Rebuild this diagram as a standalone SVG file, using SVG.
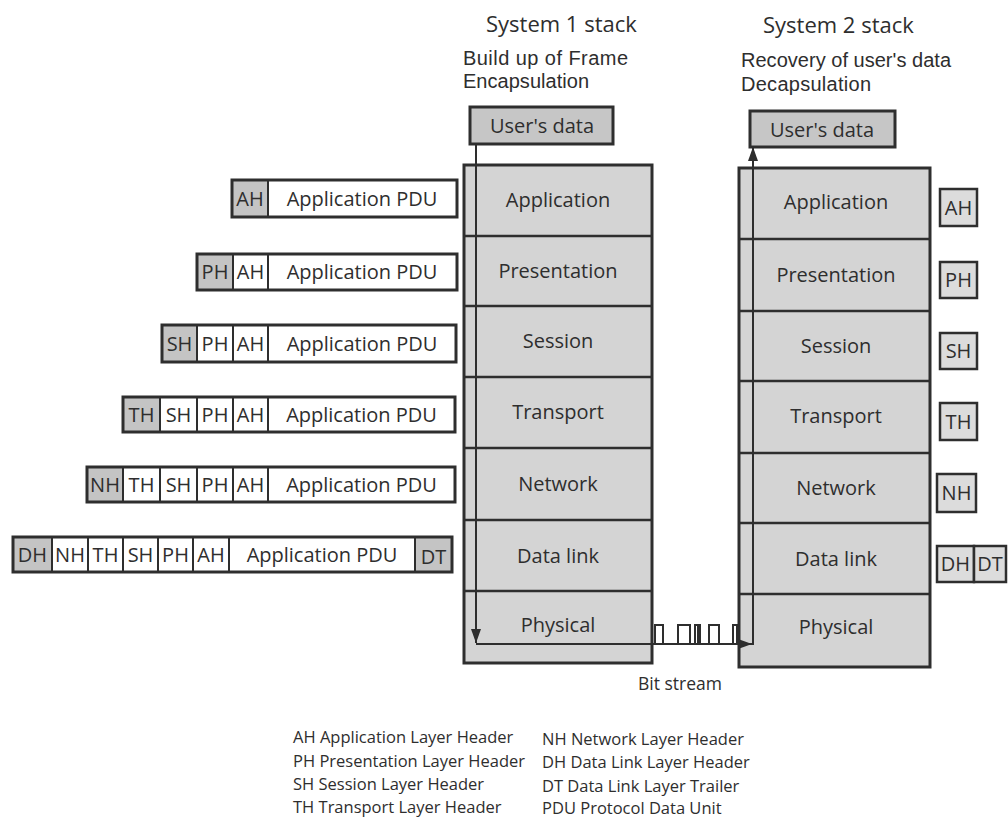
<svg xmlns="http://www.w3.org/2000/svg" width="1008" height="823" viewBox="0 0 1008 823">
<defs>
<style>
text{font-family:"Open Sans","Noto Sans","Liberation Sans",sans-serif;fill:#2e2e2e}
.title{font-size:22px}
.sub{font-size:20px;font-family:"Liberation Sans","Open Sans",sans-serif}
.lbl{font-size:20px;text-anchor:middle}
.leg{font-size:16.5px}
.bit{font-size:17.5px}
.outer{fill:none;stroke:#2e2e2e;stroke-width:3}
.cell{fill:#fff;stroke:#2e2e2e;stroke-width:2}
.gcell{fill:#c4c4c4;stroke:#2e2e2e;stroke-width:2}
.stack{fill:#d4d4d4;stroke:#2e2e2e;stroke-width:3}
.div{stroke:#2e2e2e;stroke-width:2.5}
.ubox{fill:#c6c6c6;stroke:#2e2e2e;stroke-width:3}
.rbox{fill:#dcdcdc;stroke:#2e2e2e;stroke-width:2.5}
.conn{fill:none;stroke:#2e2e2e;stroke-width:2}
</style>
<marker id="arr" viewBox="0 0 14 10" refX="14" refY="5" markerWidth="14" markerHeight="10" markerUnits="userSpaceOnUse" orient="auto">
<path d="M0,0 L14,5 L0,10 Z" fill="#2e2e2e"/>
</marker>
</defs>
<rect x="0" y="0" width="1008" height="823" fill="#fff"/>

<!-- Titles -->
<g id="titles">
<text class="title" x="486" y="32">System 1 stack</text>
<text class="sub" x="463" y="65" textLength="165" lengthAdjust="spacing">Build up of Frame</text>
<text class="sub" x="463" y="88" textLength="126" lengthAdjust="spacing">Encapsulation</text>
<text class="title" x="763" y="33">System 2 stack</text>
<text class="sub" x="741" y="67" textLength="210" lengthAdjust="spacing">Recovery of user's data</text>
<text class="sub" x="741" y="91" textLength="130" lengthAdjust="spacing">Decapsulation</text>
</g>

<!-- System 1 stack -->
<g id="stack1">
<rect class="stack" x="464" y="165" width="188" height="498"/>
<line class="div" x1="464" y1="236" x2="652" y2="236"/>
<line class="div" x1="464" y1="306" x2="652" y2="306"/>
<line class="div" x1="464" y1="377" x2="652" y2="377"/>
<line class="div" x1="464" y1="448" x2="652" y2="448"/>
<line class="div" x1="464" y1="520" x2="652" y2="520"/>
<line class="div" x1="464" y1="591" x2="652" y2="591"/>
<text class="lbl" x="558" y="207">Application</text>
<text class="lbl" x="558" y="278">Presentation</text>
<text class="lbl" x="558" y="348">Session</text>
<text class="lbl" x="558" y="419">Transport</text>
<text class="lbl" x="558" y="491">Network</text>
<text class="lbl" x="558" y="563">Data link</text>
<text class="lbl" x="558" y="632">Physical</text>
</g>
<g id="userdata1">
<rect class="ubox" x="470" y="107" width="143" height="37"/>
<text class="lbl" x="542" y="133">User's data</text>
</g>

<!-- System 2 stack -->
<g id="stack2">
<rect class="stack" x="739" y="168" width="191" height="499"/>
<line class="div" x1="739" y1="239" x2="930" y2="239"/>
<line class="div" x1="739" y1="311" x2="930" y2="311"/>
<line class="div" x1="739" y1="381" x2="930" y2="381"/>
<line class="div" x1="739" y1="453" x2="930" y2="453"/>
<line class="div" x1="739" y1="523" x2="930" y2="523"/>
<line class="div" x1="739" y1="594" x2="930" y2="594"/>
<text class="lbl" x="836" y="209">Application</text>
<text class="lbl" x="836" y="282">Presentation</text>
<text class="lbl" x="836" y="353">Session</text>
<text class="lbl" x="836" y="423">Transport</text>
<text class="lbl" x="836" y="495">Network</text>
<text class="lbl" x="836" y="566">Data link</text>
<text class="lbl" x="836" y="634">Physical</text>
</g>
<g id="userdata2">
<rect class="ubox" x="750" y="111" width="145" height="36"/>
<text class="lbl" x="822" y="137">User's data</text>
</g>

<!-- Right-hand header boxes -->
<g id="rh-ah"><rect class="rbox" x="940" y="189" width="37" height="37"/><text class="lbl" x="958.5" y="214.5">AH</text></g>
<g id="rh-ph"><rect class="rbox" x="940" y="262" width="37" height="36"/><text class="lbl" x="958.5" y="287">PH</text></g>
<g id="rh-sh"><rect class="rbox" x="940" y="333" width="37" height="36"/><text class="lbl" x="958.5" y="358">SH</text></g>
<g id="rh-th"><rect class="rbox" x="940" y="403" width="37" height="37"/><text class="lbl" x="958.5" y="428.5">TH</text></g>
<g id="rh-nh"><rect class="rbox" x="937" y="474" width="39" height="38"/><text class="lbl" x="956.5" y="500">NH</text></g>
<g id="rh-dhdt">
<rect class="rbox" x="937" y="546" width="37" height="36"/><text class="lbl" x="955.5" y="571">DH</text>
<rect class="rbox" x="974" y="546" width="32" height="36"/><text class="lbl" x="990" y="571">DT</text>
</g>

<!-- Left-hand PDUs -->
<g id="pdu-app">
<rect class="gcell" x="232" y="180" width="36" height="37"/>
<rect class="cell" x="268" y="180" width="189" height="37"/>
<rect class="outer" x="232" y="180" width="225" height="37"/>
<text class="lbl" x="250" y="205.5">AH</text>
<text class="lbl" x="362" y="205.5">Application PDU</text>
</g>
<g id="pdu-pres">
<rect class="gcell" x="197" y="254" width="36" height="36"/>
<rect class="cell" x="233" y="254" width="35" height="36"/>
<rect class="cell" x="268" y="254" width="189" height="36"/>
<rect class="outer" x="197" y="254" width="260" height="36"/>
<text class="lbl" x="215" y="279">PH</text>
<text class="lbl" x="250.5" y="279">AH</text>
<text class="lbl" x="362" y="279">Application PDU</text>
</g>
<g id="pdu-sess">
<rect class="gcell" x="162" y="325" width="35" height="37"/>
<rect class="cell" x="197" y="325" width="36" height="37"/>
<rect class="cell" x="233" y="325" width="35" height="37"/>
<rect class="cell" x="268" y="325" width="188" height="37"/>
<rect class="outer" x="162" y="325" width="294" height="37"/>
<text class="lbl" x="179.5" y="350.5">SH</text>
<text class="lbl" x="215" y="350.5">PH</text>
<text class="lbl" x="250.5" y="350.5">AH</text>
<text class="lbl" x="362" y="350.5">Application PDU</text>
</g>
<g id="pdu-trans">
<rect class="gcell" x="123" y="397" width="37" height="35"/>
<rect class="cell" x="160" y="397" width="37" height="35"/>
<rect class="cell" x="197" y="397" width="36" height="35"/>
<rect class="cell" x="233" y="397" width="35" height="35"/>
<rect class="cell" x="268" y="397" width="187" height="35"/>
<rect class="outer" x="123" y="397" width="332" height="35"/>
<text class="lbl" x="141.5" y="421.5">TH</text>
<text class="lbl" x="178.5" y="421.5">SH</text>
<text class="lbl" x="215" y="421.5">PH</text>
<text class="lbl" x="250.5" y="421.5">AH</text>
<text class="lbl" x="361.5" y="421.5">Application PDU</text>
</g>
<g id="pdu-net">
<rect class="gcell" x="87" y="467" width="36" height="35"/>
<rect class="cell" x="123" y="467" width="37" height="35"/>
<rect class="cell" x="160" y="467" width="37" height="35"/>
<rect class="cell" x="197" y="467" width="36" height="35"/>
<rect class="cell" x="233" y="467" width="35" height="35"/>
<rect class="cell" x="268" y="467" width="187" height="35"/>
<rect class="outer" x="87" y="467" width="368" height="35"/>
<text class="lbl" x="105" y="491.5">NH</text>
<text class="lbl" x="141.5" y="491.5">TH</text>
<text class="lbl" x="178.5" y="491.5">SH</text>
<text class="lbl" x="215" y="491.5">PH</text>
<text class="lbl" x="250.5" y="491.5">AH</text>
<text class="lbl" x="361.5" y="491.5">Application PDU</text>
</g>
<g id="pdu-data">
<rect class="gcell" x="13" y="537" width="39" height="35"/>
<rect class="cell" x="52" y="537" width="36" height="35"/>
<rect class="cell" x="88" y="537" width="35" height="35"/>
<rect class="cell" x="123" y="537" width="35" height="35"/>
<rect class="cell" x="158" y="537" width="35" height="35"/>
<rect class="cell" x="193" y="537" width="36" height="35"/>
<rect class="cell" x="229" y="537" width="186" height="35"/>
<rect class="gcell" x="415" y="537" width="37" height="35"/>
<rect class="outer" x="13" y="537" width="439" height="35"/>
<text class="lbl" x="32.5" y="561.5">DH</text>
<text class="lbl" x="70" y="561.5">NH</text>
<text class="lbl" x="105.5" y="561.5">TH</text>
<text class="lbl" x="140.5" y="561.5">SH</text>
<text class="lbl" x="175.5" y="561.5">PH</text>
<text class="lbl" x="211" y="561.5">AH</text>
<text class="lbl" x="322" y="561.5">Application PDU</text>
<text class="lbl" x="433.5" y="563.5">DT</text>
</g>

<!-- Connectors -->
<g id="connectors">
<line class="conn" x1="476" y1="144" x2="476" y2="643" marker-end="url(#arr)"/>
<line class="conn" x1="476" y1="644" x2="752" y2="644" marker-end="url(#arr)"/>
<path class="conn" d="M652,644 H655 V625 H663 V644 M678,644 V625 H690 V644 M695,644 V625 H700 V644 M698,625 V644 M709,644 V625 H719 V644 M733,644 V625 H737 V644"/>
<line class="conn" x1="753" y1="645" x2="753" y2="147" marker-end="url(#arr)"/>
</g>
<text class="bit" x="638" y="690">Bit stream</text>

<!-- Legend -->
<g id="legend">
<text class="leg" x="293" y="743">AH Application Layer Header</text>
<text class="leg" x="293" y="767">PH Presentation Layer Header</text>
<text class="leg" x="293" y="790">SH Session Layer Header</text>
<text class="leg" x="293" y="813">TH Transport Layer Header</text>
<text class="leg" x="542" y="745">NH Network Layer Header</text>
<text class="leg" x="542" y="768">DH Data Link Layer Header</text>
<text class="leg" x="542" y="792">DT Data Link Layer Trailer</text>
<text class="leg" x="542" y="814">PDU Protocol Data Unit</text>
</g>
</svg>
